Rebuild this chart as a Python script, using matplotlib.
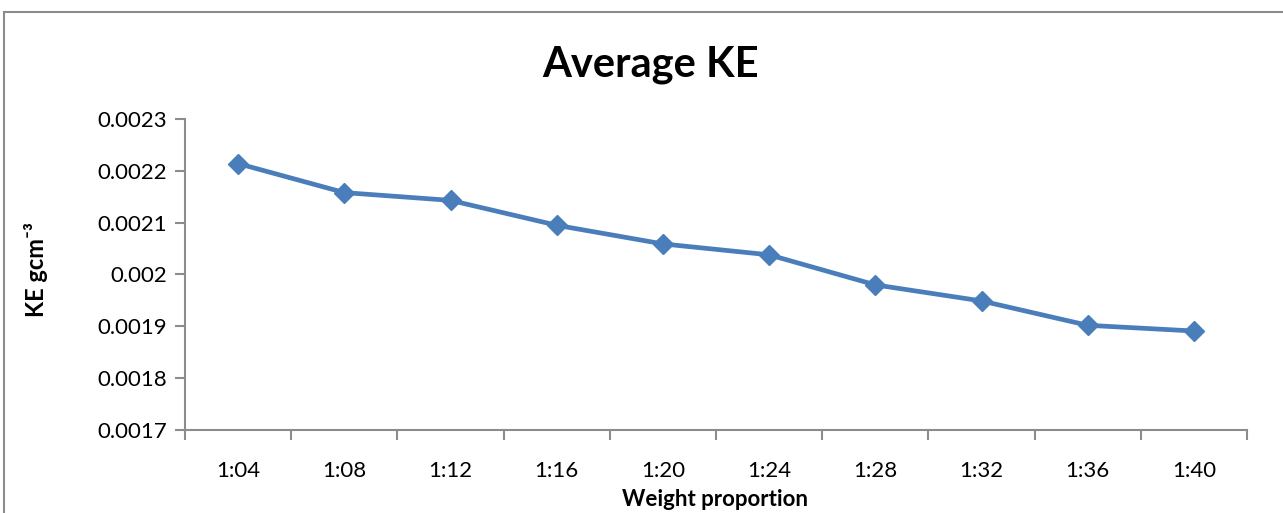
import numpy as np
import matplotlib.pyplot as plt
from matplotlib.patches import Rectangle

proportions = ["1:04", "1:08", "1:12", "1:16", "1:20", "1:24", "1:28", "1:32", "1:36", "1:40"]
avg_ke = [0.002214, 0.002158, 0.002143, 0.002095, 0.002059, 0.002038, 0.001980, 0.001949, 0.001902, 0.001891]

plt.rcParams['font.family'] = ['Lato', 'DejaVu Sans']

fig = plt.figure(figsize=(12.83, 5.13), dpi=100)
ax = fig.add_axes([185 / 1283, 1 - 430 / 513, (1247 - 185) / 1283, (430 - 119) / 513])

# chart frame
fig.patches.append(Rectangle((4 / 1283, -0.1), 1.2, 1 - 12 / 513 + 0.1, transform=fig.transFigure,
                             fill=False, edgecolor='#8c8c8c', linewidth=1.5, clip_on=False))

x = np.arange(len(proportions))
ax.plot(x, avg_ke, color='#4A7EBB', linewidth=3.4, marker='D', markersize=10,
        markerfacecolor='#4A7EBB', markeredgecolor='#4A7EBB')

ax.set_xlim(-0.5, len(proportions) - 0.5)
ax.set_ylim(0.0017, 0.0023)
ax.set_yticks(np.arange(0.0017, 0.00231, 0.0001))
ax.set_yticklabels(["0.0017", "0.0018", "0.0019", "0.002", "0.0021", "0.0022", "0.0023"])

# tick marks sit between categories, labels at the category centres
ax.set_xticks(np.arange(-0.5, len(proportions)), minor=False)
ax.set_xticklabels([])
ax.set_xticks(x, minor=True)
ax.set_xticklabels(proportions, minor=True)
ax.tick_params(axis='x', which='minor', length=0, pad=22, labelsize=16)
ax.tick_params(axis='x', which='major', length=7, width=1.5, color='#8c8c8c', direction='out')
ax.tick_params(axis='y', length=7, width=1.5, color='#8c8c8c', direction='out', labelsize=16, pad=6)

for side in ['top', 'right']:
    ax.spines[side].set_visible(False)
for side in ['left', 'bottom']:
    ax.spines[side].set_color('#8c8c8c')
    ax.spines[side].set_linewidth(1.5)

fig.text(651 / 1283, 1 - 65 / 513, "Average KE", fontsize=30, fontweight='bold',
         ha='center', va='center')
fig.text(715 / 1283, 1 - 500 / 513, "Weight proportion", fontsize=16, fontweight='bold',
         ha='center', va='center')
fig.text(36 / 1283, 1 - 270 / 513, "KE gcm\u207b\u00b3", fontsize=17, fontweight='bold',
         ha='center', va='center', rotation=90)

fig.savefig("out.png", dpi=100)
